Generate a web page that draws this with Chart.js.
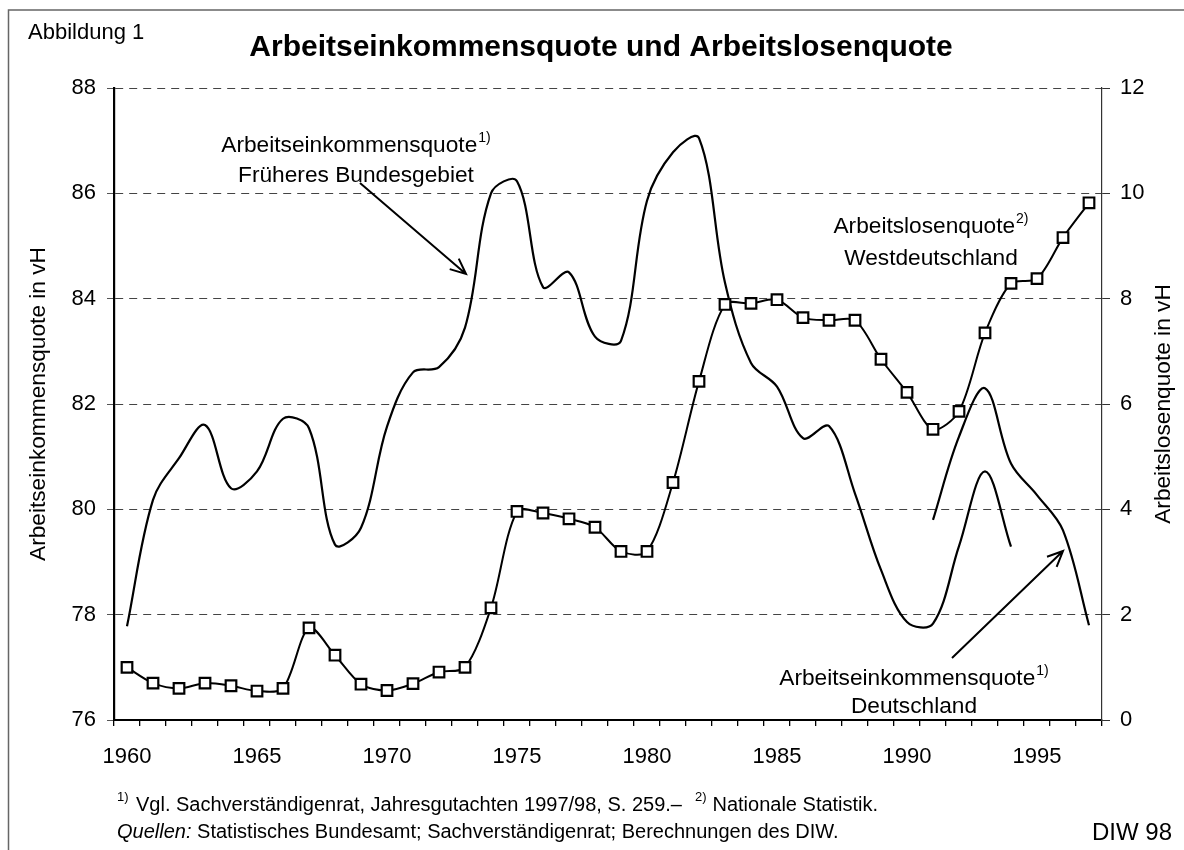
<!DOCTYPE html>
<html>
<head>
<meta charset="utf-8">
<script src="https://cdn.jsdelivr.net/npm/chart.js@4.4.1/dist/chart.umd.min.js"></script>
<style>
  html, body { margin: 0; padding: 0; background: #fff; }
  #wrap { position: relative; width: 1184px; height: 850px; }
</style>
</head>
<body>
<div id="wrap"><canvas id="chart"></canvas></div>
<script>
// Jahre (Kategorien)
const years = ['1960','1961','1962','1963','1964','1965','1966','1967','1968','1969',
               '1970','1971','1972','1973','1974','1975','1976','1977','1978','1979',
               '1980','1981','1982','1983','1984','1985','1986','1987','1988','1989',
               '1990','1991','1992','1993','1994','1995','1996','1997'];

// Arbeitslosenquote Westdeutschland (rechte Achse, in vH)
const arbeitslosenWest = [1.0, 0.7, 0.6, 0.7, 0.65, 0.55, 0.6, 1.75, 1.23, 0.68,
                          0.56, 0.69, 0.91, 1.0, 2.13, 3.96, 3.93, 3.82, 3.66, 3.2,
                          3.2, 4.51, 6.43, 7.89, 7.91, 7.98, 7.64, 7.59, 7.59, 6.85,
                          6.22, 5.52, 5.86, 7.35, 8.29, 8.38, 9.16, 9.82];

// Arbeitseinkommensquote früheres Bundesgebiet (linke Achse, 1960-1994)
const aeqFrueheres = [77.78, 80.18, 80.97, 81.6, 80.4, 80.72, 81.72, 81.54, 79.33, 79.65,
                      81.57, 82.6, 82.7, 83.45, 86.0, 86.23, 84.22, 84.5, 83.28, 83.2,
                      85.86, 86.78, 87.05, 84.3, 82.78, 82.33, 81.35, 81.58, 80.3, 78.85,
                      77.86, 77.83, 79.3, 80.72, 79.29, null, null, null];

// Arbeitseinkommensquote Deutschland (linke Achse, 1991-1997)
const aeqDeutschland = [null, null, null, null, null, null, null, null, null, null,
                        null, null, null, null, null, null, null, null, null, null,
                        null, null, null, null, null, null, null, null, null, null,
                        null, 79.8, 81.38, 82.3, 80.87, 80.27, 79.6, 77.8];

const leftRange = [76, 88];
const rightRange = [0, 12];

const FONT = '"Liberation Sans", Arial, sans-serif';

// Hochgestellte Fußnotenzeichen neben Text
function textSup(ctx, text, sup, cx, y, size) {
    ctx.font = size + 'px ' + FONT;
    const w1 = ctx.measureText(text).width;
    const supSize = Math.round(size * 0.62);
    ctx.font = supSize + 'px ' + FONT;
    const w2 = ctx.measureText(sup).width;
    const x0 = cx - (w1 + 1 + w2) / 2;
    ctx.font = size + 'px ' + FONT;
    ctx.fillText(text, x0, y);
    ctx.font = supSize + 'px ' + FONT;
    ctx.fillText(sup, x0 + w1 + 1, y - size * 0.45);
}

function arrow(ctx, x1, y1, x2, y2) {
    const a = Math.atan2(y2 - y1, x2 - x1);
    const h = 17, s = 0.42;
    ctx.beginPath();
    ctx.moveTo(x1, y1);
    ctx.lineTo(x2, y2);
    ctx.moveTo(x2 - h * Math.cos(a - s), y2 - h * Math.sin(a - s));
    ctx.lineTo(x2, y2);
    ctx.lineTo(x2 - h * Math.cos(a + s), y2 - h * Math.sin(a + s));
    ctx.stroke();
}

// Beschriftungen, Rahmen, Pfeile
const annotations = {
    id: 'annotations',
    afterDraw(chart) {
        const ctx = chart.ctx;
        const area = chart.chartArea;
        const lbl = 22.7;
        ctx.save();
        // Rahmen oben und links
        ctx.strokeStyle = '#666';
        ctx.lineWidth = 1.5;
        ctx.beginPath();
        ctx.moveTo(8.5, 850);
        ctx.lineTo(8.5, 10);
        ctx.lineTo(1184, 10);
        ctx.stroke();

        ctx.fillStyle = '#000';
        ctx.textBaseline = 'alphabetic';
        ctx.textAlign = 'left';
        ctx.font = '22px ' + FONT;
        ctx.fillText('Abbildung 1', 28, 39);

        ctx.textAlign = 'center';
        ctx.font = 'bold 30px ' + FONT;
        ctx.fillText('Arbeitseinkommensquote und Arbeitslosenquote', 601, 56);

        // Achsentitel (beide von unten nach oben)
        const midY = (area.top + area.bottom) / 2;
        ctx.font = lbl + 'px ' + FONT;
        ctx.textBaseline = 'middle';
        ctx.save();
        ctx.translate(39, midY);
        ctx.rotate(-Math.PI / 2);
        ctx.fillText('Arbeitseinkommensquote in vH', 0, 0);
        ctx.restore();
        ctx.save();
        ctx.translate(1164, midY);
        ctx.rotate(-Math.PI / 2);
        ctx.fillText('Arbeitslosenquote in vH', 0, 0);
        ctx.restore();

        // Reihenbeschriftungen
        ctx.textBaseline = 'alphabetic';
        ctx.textAlign = 'left';
        textSup(ctx, 'Arbeitseinkommensquote', '1)', 356, 152, lbl);
        ctx.textAlign = 'center';
        ctx.font = lbl + 'px ' + FONT;
        ctx.fillText('Früheres Bundesgebiet', 356, 182);
        ctx.textAlign = 'left';
        textSup(ctx, 'Arbeitslosenquote', '2)', 931, 233, lbl);
        ctx.textAlign = 'center';
        ctx.font = lbl + 'px ' + FONT;
        ctx.fillText('Westdeutschland', 931, 265);
        ctx.textAlign = 'left';
        textSup(ctx, 'Arbeitseinkommensquote', '1)', 914, 685, lbl);
        ctx.textAlign = 'center';
        ctx.font = lbl + 'px ' + FONT;
        ctx.fillText('Deutschland', 914, 713);

        ctx.strokeStyle = '#000';
        ctx.lineWidth = 2;
        arrow(ctx, 360, 183, 466, 274);
        arrow(ctx, 952, 658, 1063, 551);

        // Fußnoten
        ctx.textAlign = 'left';
        let x = 117;
        ctx.font = '13px ' + FONT;
        ctx.fillText('1)', x, 801);
        ctx.font = '20px ' + FONT;
        const t1 = 'Vgl. Sachverständigenrat, Jahresgutachten 1997/98, S. 259.–';
        ctx.fillText(t1, 136, 811);
        x = 136 + ctx.measureText(t1).width + 13;
        ctx.font = '13px ' + FONT;
        ctx.fillText('2)', x, 801);
        x += ctx.measureText('2)').width + 6;
        ctx.font = '20px ' + FONT;
        ctx.fillText('Nationale Statistik.', x, 811);

        ctx.font = 'italic 20px ' + FONT;
        ctx.fillText('Quellen:', 117, 838);
        x = 117 + ctx.measureText('Quellen:').width;
        ctx.font = '20px ' + FONT;
        ctx.fillText(' Statistisches Bundesamt; Sachverständigenrat; Berechnungen des DIW.', x, 838);

        ctx.textAlign = 'right';
        ctx.font = '24px ' + FONT;
        ctx.fillText('DIW 98', 1172, 840);
        ctx.restore();
    }
};

const tickFont = { family: FONT, size: 22 };

new Chart(document.getElementById('chart'), {
    type: 'line',
    data: {
        labels: years,
        datasets: [{
            label: 'Arbeitslosenquote Westdeutschland',
            data: arbeitslosenWest,
            yAxisID: 'y1',
            borderColor: '#000',
            borderWidth: 2,
            tension: 0.3,
            pointStyle: 'rect',
            pointRadius: 7.5,
            pointBorderWidth: 2.2,
            pointBackgroundColor: '#fff',
            pointBorderColor: '#000'
        }, {
            label: 'Arbeitseinkommensquote Früheres Bundesgebiet',
            data: aeqFrueheres,
            yAxisID: 'y',
            borderColor: '#000',
            borderWidth: 2.2,
            tension: 0.35,
            pointRadius: 0
        }, {
            label: 'Arbeitseinkommensquote Deutschland',
            data: aeqDeutschland,
            yAxisID: 'y',
            borderColor: '#000',
            borderWidth: 2.2,
            tension: 0.35,
            pointRadius: 0
        }]
    },
    options: {
        responsive: true,
        maintainAspectRatio: false,
        animation: false,
        layout: { padding: { top: 88, left: 0, right: 0, bottom: 0 } },
        plugins: {
            legend: { display: false },
            tooltip: { enabled: false }
        },
        scales: {
            x: {
                type: 'category',
                offset: true,
                grid: { offset: true, drawOnChartArea: false, tickLength: 6, color: '#000', lineWidth: 1.3 },
                border: { color: '#000', width: 2 },
                ticks: {
                    autoSkip: false,
                    maxRotation: 0,
                    padding: 18,
                    color: '#000',
                    font: tickFont,
                    callback: (v, i) => Number(years[i]) % 5 === 0 ? years[i] : ''
                },
                afterFit: s => { s.height = 130; }
            },
            y: {
                position: 'left',
                min: leftRange[0],
                max: leftRange[1],
                ticks: { stepSize: 2, padding: 11, color: '#000', font: tickFont },
                grid: { color: '#444', lineWidth: 1, tickLength: 7, tickColor: '#555' },
                border: { color: '#000', width: 2.2, dash: [8, 6] },
                afterFit: s => { s.width = 114; }
            },
            y1: {
                position: 'right',
                min: rightRange[0],
                max: rightRange[1],
                ticks: { stepSize: 2, padding: 10, color: '#000', font: tickFont },
                grid: { drawOnChartArea: false, tickLength: 8, color: '#333' },
                border: { color: '#333', width: 1.2 },
                afterFit: s => { s.width = 82; }
            }
        }
    },
    plugins: [annotations]
});
</script>
</body>
</html>
